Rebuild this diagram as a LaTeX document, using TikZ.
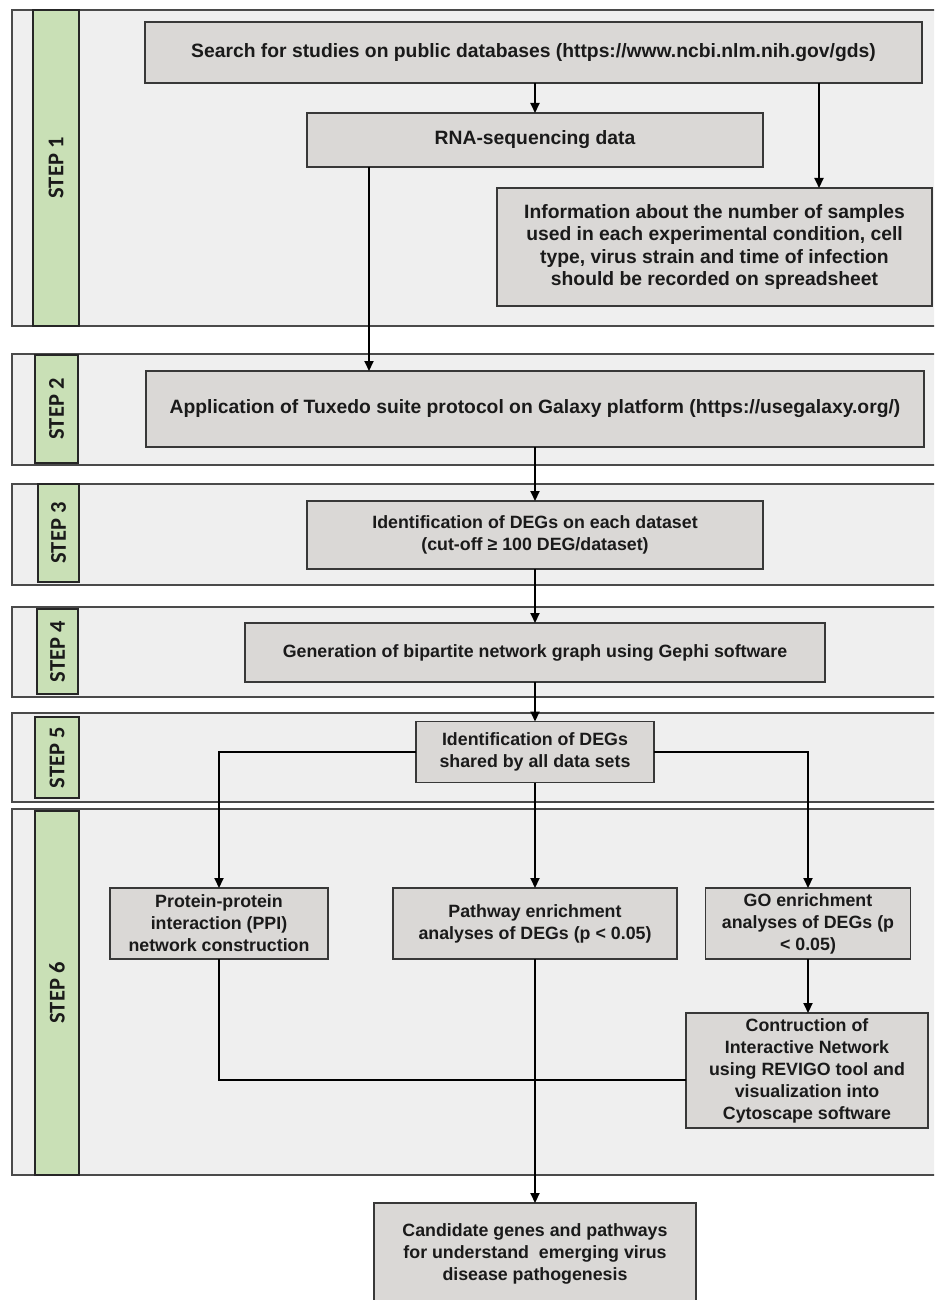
\documentclass[tikz,border=0pt]{standalone}
\usepackage{fontspec}
\setmainfont{Liberation Sans}
\newfontfamily\stepfont{Carlito}
\usetikzlibrary{arrows.meta,calc}

\definecolor{panelfill}{HTML}{EFEFEF}
\definecolor{panelline}{HTML}{4A4A4A}
\definecolor{boxfill}{HTML}{DAD8D6}
\definecolor{boxline}{HTML}{383838}
\definecolor{stepgreen}{HTML}{C9E0B6}
\definecolor{inktext}{HTML}{1A1A1A}

\tikzset{
  panel/.style={draw=panelline, fill=panelfill, line width=1.5pt, inner sep=0pt, outer sep=0pt},
  stepbar/.style={draw=black!85, fill=stepgreen, line width=1.4pt, rotate=90,
    inner sep=0pt, outer sep=0pt, text=inktext,
    font=\stepfont\bfseries\fontsize{22.5}{25}\selectfont},
  procbox/.style={draw=boxline, fill=boxfill, line width=1.5pt, align=center,
    inner sep=0pt, outer sep=0pt, text=inktext},
  bigtext/.style={font=\bfseries\fontsize{19.3}{22.6}\selectfont},
  smalltext/.style={font=\bfseries\fontsize{17.8}{22}\selectfont},
  flow/.style={draw=black, line width=2pt},
  arr/.style={flow, -{Triangle[length=10pt,width=9pt]}},
}

\begin{document}
\begin{tikzpicture}[x=1pt,y=-1pt]
\useasboundingbox (0,0) rectangle (934,1300);
\clip (0,0) rectangle (934,1300);
\fill[white] (0,0) rectangle (934,1300);

% step panels (they run past the right edge)
\node[panel, minimum width=933, minimum height=316, anchor=north west] (p1) at (12,10) {};
\node[panel, minimum width=933, minimum height=111, anchor=north west] (p2) at (12,354) {};
\node[panel, minimum width=933, minimum height=101, anchor=north west] (p3) at (12,484) {};
\node[panel, minimum width=933, minimum height=90,  anchor=north west] (p4) at (12,607) {};
\node[panel, minimum width=933, minimum height=89,  anchor=north west] (p5) at (12,713) {};
\node[panel, minimum width=933, minimum height=366, anchor=north west] (p6) at (12,809) {};

% green step labels
\node[stepbar, minimum width=316, minimum height=46] (s1) at (56,168)   {STEP 1};
\node[stepbar, minimum width=108, minimum height=43] (s2) at (56.5,409) {STEP 2};
\node[stepbar, minimum width=98,  minimum height=41] (s3) at (58.5,533) {STEP 3};
\node[stepbar, minimum width=85,  minimum height=41] (s4) at (57.5,651.5) {STEP 4};
\node[stepbar, minimum width=81,  minimum height=44] (s5) at (57,757.5) {STEP 5};
\node[stepbar, minimum width=364, minimum height=44] (s6) at (57,993)   {STEP 6};

% process boxes
\node[procbox, bigtext, minimum width=777, minimum height=61] (search) at (533.5,52.5)
  {Search for studies on public databases (https://www.ncbi.nlm.nih.gov/gds)};
\node[procbox, bigtext, minimum width=456, minimum height=54] (rna) at (535,140)
  {RNA-sequencing data};
\node[procbox, bigtext, minimum width=435, minimum height=118] (info) at (714.5,247)
  {Information about the number of samples\\used in each experimental condition, cell\\type, virus strain and time of infection\\should be recorded on spreadsheet};
\node[procbox, bigtext, minimum width=778, minimum height=76] (tux) at (535,409)
  {Application of Tuxedo suite protocol on Galaxy platform (https://usegalaxy.org/)};
\node[procbox, smalltext, minimum width=456, minimum height=68] (ident) at (535,535)
  {Identification of DEGs on each dataset\\(cut-off ≥ 100 DEG/dataset)};
\node[procbox, smalltext, minimum width=580, minimum height=59] (gen) at (535,652.5)
  {Generation of bipartite network graph using Gephi software};
\node[procbox, smalltext, minimum width=238, minimum height=61] (shared) at (535,752)
  {Identification of DEGs\\shared by all data sets};
\node[procbox, smalltext, minimum width=218, minimum height=71] (ppi) at (219,923.5)
  {Protein-protein\\interaction (PPI)\\network construction};
\node[procbox, smalltext, minimum width=284, minimum height=71] (path) at (535,923.5)
  {Pathway enrichment\\analyses of DEGs (p < 0.05)};
\node[procbox, smalltext, minimum width=205, minimum height=71] (go) at (808,923.5)
  {GO enrichment\\analyses of DEGs (p\\< 0.05)};
\node[procbox, smalltext, minimum width=242, minimum height=115] (cyto) at (807,1070.5)
  {Contruction of\\Interactive Network\\using REVIGO tool and\\visualization into\\Cytoscape software};
\node[procbox, smalltext, minimum width=322, minimum height=102] (cand) at (535,1254)
  {Candidate genes and pathways\\for understand\ \ emerging virus\\disease pathogenesis};

% connectors
\draw[arr] (rna.north |- search.south) -- (rna.north);
\draw[arr] ([xshift=104.5pt]info.north |- search.south) -- ([xshift=104.5pt]info.north);
\draw[arr] ([xshift=-166pt]rna.south) -- ([xshift=-166pt]rna.south |- tux.north);
\draw[arr] (ident.north |- tux.south) -- (ident.north);
\draw[arr] (ident.south) -- (gen.north);
\draw[arr] (gen.south) -- (shared.north);
\draw[arr] (shared.west) -| (ppi.north);
\draw[arr] (shared.east) -| (go.north);
\draw[arr] (shared.south) -- (path.north);
\draw[arr] (go.south) -- (go.south |- cyto.north);
\draw[flow] (ppi.south) |- ([yshift=-9.5pt]cyto.west);
\draw[arr] (path.south) -- (cand.north);
\end{tikzpicture}
\end{document}
